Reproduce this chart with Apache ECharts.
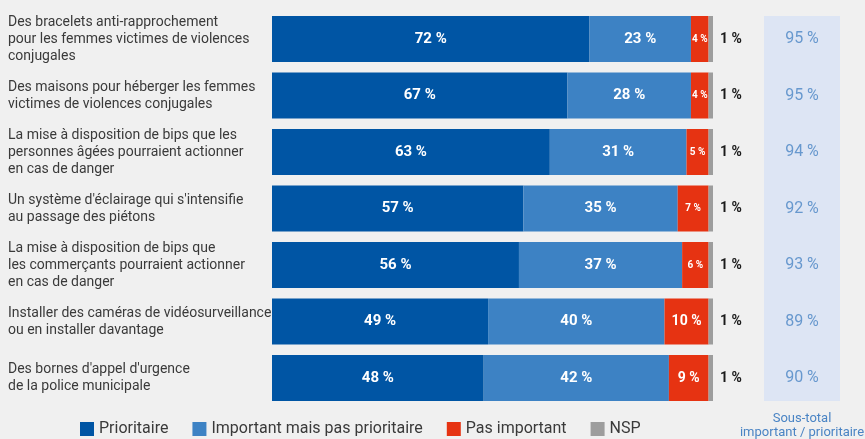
<!DOCTYPE html>
<html><head><meta charset="utf-8">
<script src="https://cdn.jsdelivr.net/npm/echarts@6/dist/echarts.min.js"></script>
<style>html,body{margin:0;padding:0;background:#f0f0f0}#c{width:865px;height:439px}</style>
</head><body><div id="c"></div>
<script>
const categories = [
  "Des bracelets anti-rapprochement\npour les femmes victimes de violences\nconjugales",
  "Des maisons pour héberger les femmes\nvictimes de violences conjugales",
  "La mise à disposition de bips que les\npersonnes âgées pourraient actionner\nen cas de danger",
  "Un système d'éclairage qui s'intensifie\nau passage des piétons",
  "La mise à disposition de bips que\nles commerçants pourraient actionner\nen cas de danger",
  "Installer des caméras de vidéosurveillance\nou en installer davantage",
  "Des bornes d'appel d'urgence\nde la police municipale"
];
const prioritaire = [72, 67, 63, 57, 56, 49, 48];
const important = [23, 28, 31, 35, 37, 40, 42];
const pasImportant = [4, 4, 5, 7, 6, 10, 9];
const nsp = [1, 1, 1, 1, 1, 1, 1];
const sousTotal = [95, 95, 94, 92, 93, 89, 90];
const seriesNames = ["Prioritaire", "Important mais pas prioritaire", "Pas important", "NSP"];
const colors = ["#0055a4", "#3d82c4", "#e63312", "#9d9d9d"];
const FONT = "Roboto";

const chart = echarts.init(document.getElementById('c'));
const gridTop = 10.75, gridH = 395.5;
const insideLabel = {show: true, position: 'inside', color: '#fff', fontWeight: 'bold', fontSize: 15, fontFamily: FONT, formatter: p => p.value + ' %'};

chart.setOption({
  backgroundColor: '#f0f0f0',
  animation: false,
  textStyle: {fontFamily: FONT},
  legend: {
    left: 80, top: 421, padding: 0, icon: 'rect', itemWidth: 14, itemHeight: 14, itemGap: 24,
    textStyle: {fontSize: 16, color: '#3a3a3a', fontFamily: FONT, padding: [0, 0, 0, 0]},
    data: seriesNames
  },
  grid: [
    {left: 272, width: 441, top: gridTop, height: gridH},
    {left: 764, width: 76, top: gridTop, height: gridH}
  ],
  xAxis: [
    {gridIndex: 0, type: 'value', min: 0, max: 100, show: false},
    {gridIndex: 1, type: 'value', min: 0, max: 1, show: false}
  ],
  yAxis: [
    {gridIndex: 0, type: 'category', inverse: true, data: categories,
     axisLine: {show: false}, axisTick: {show: false},
     axisLabel: {margin: 264, align: 'left', fontSize: 14, lineHeight: 17, color: '#3a3a3a', fontFamily: FONT}},
    {gridIndex: 1, type: 'category', inverse: true, data: categories, show: false}
  ],
  graphic: [
    {type: 'rect', shape: {x: 764, y: 16, width: 76, height: 385}, style: {fill: '#dde5f4'}, z: -1},
    {type: 'text', x: 802, y: 412, style: {text: 'Sous-total\nimportant / prioritaire', align: 'center', verticalAlign: 'top', fill: '#4a84c4', fontSize: 13, lineHeight: 14, fontFamily: FONT}}
  ],
  series: [
    {name: seriesNames[0], type: 'bar', stack: 't', barWidth: 46, data: prioritaire, itemStyle: {color: colors[0]}, label: insideLabel},
    {name: seriesNames[1], type: 'bar', stack: 't', barWidth: 46, data: important, itemStyle: {color: colors[1]}, label: insideLabel},
    {name: seriesNames[2], type: 'bar', stack: 't', barWidth: 46, itemStyle: {color: colors[2]},
     data: pasImportant.map(v => ({value: v, label: {fontSize: v >= 8 ? 14 : 10}})),
     label: Object.assign({}, insideLabel)},
    {name: seriesNames[3], type: 'bar', stack: 't', barWidth: 46, data: nsp, itemStyle: {color: colors[3]},
     label: {show: true, position: 'right', distance: 7, color: '#1a1a1a', fontWeight: 'bold', fontSize: 14, fontFamily: FONT, formatter: p => p.value + ' %'}},
    {type: 'scatter', xAxisIndex: 1, yAxisIndex: 1, symbolSize: 0, silent: true,
     data: sousTotal.map((v, i) => [0.5, i]),
     label: {show: true, position: 'inside', color: '#4a84c4', fontSize: 16, fontFamily: FONT, formatter: p => sousTotal[p.dataIndex] + ' %'}}
  ]
});
</script></body></html>
